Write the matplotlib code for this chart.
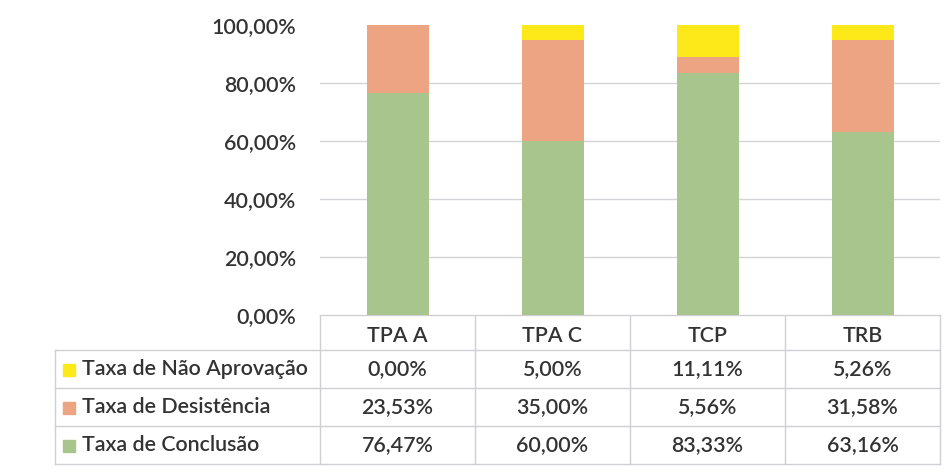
import matplotlib
matplotlib.use("Agg")
import matplotlib.pyplot as plt
from matplotlib.ticker import FuncFormatter

categories = ["TPA A", "TPA C", "TCP", "TRB"]
series_names = ["Taxa de Não Aprovação", "Taxa de Desistência", "Taxa de Conclusão"]
nao_aprov = [0.00, 5.00, 11.11, 5.26]
desist = [23.53, 35.00, 5.56, 31.58]
conclusao = [76.47, 60.00, 83.33, 63.16]
yticks = [0, 20, 40, 60, 80, 100]

c_green = "#a8c58e"
c_orange = "#eca482"
c_yellow = "#fde81a"
txt = "#333333"
gridc = "#d4d4d8"
fs = 15.4
fw = "semibold"

plt.rcParams['font.family'] = ['Lato', 'DejaVu Sans']

W, H = 949, 474
fig = plt.figure(figsize=(W / 100, H / 100), dpi=100)
fig.patch.set_facecolor("white")

def px(x0, y0, x1, y1):
    return [x0 / W, 1 - y1 / H, (x1 - x0) / W, (y1 - y0) / H]

# main plot
ax = fig.add_axes(px(320, 25, 940, 315))
xs = list(range(len(categories)))
bw = 0.4
ax.bar(xs, conclusao, bw, color=c_green, zorder=3)
ax.bar(xs, desist, bw, bottom=conclusao, color=c_orange, zorder=3)
bottom2 = [a + b for a, b in zip(conclusao, desist)]
ax.bar(xs, nao_aprov, bw, bottom=bottom2, color=c_yellow, zorder=3)
ax.set_xlim(-0.5, len(categories) - 0.5)
ax.set_ylim(0, 100)
ax.set_yticks(yticks)
ax.yaxis.set_major_formatter(FuncFormatter(lambda v, p: f"{v:.2f}%".replace(".", ",")))
ax.tick_params(axis="y", length=0, pad=17, labelsize=fs, labelcolor=txt)
for lab in ax.get_yticklabels():
    lab.set_fontweight(fw)
ax.set_xticks([])
for s in ax.spines.values():
    s.set_visible(False)
ax.grid(axis="y", color=gridc, linewidth=1, zorder=0)
ax.yaxis.get_gridlines()[-1].set_visible(False)

# table overlay in pixel coords
tb = fig.add_axes([0, 0, 1, 1], zorder=-1)
tb.set_xlim(0, W)
tb.set_ylim(H, 0)
tb.axis("off")
col_x = [320, 475, 630, 785, 940]
row_y = [315, 350, 388, 426, 464]
leg_x0 = 55
lc = "#d0d0d4"
for i, x in enumerate(col_x):
    tb.plot([x, x], [row_y[0], row_y[-1]], color=lc, lw=1)
tb.plot([leg_x0, leg_x0], [row_y[1], row_y[-1]], color=lc, lw=1)
tb.plot([col_x[0], col_x[-1]], [row_y[0], row_y[0]], color=lc, lw=1)
for y in row_y[1:]:
    tb.plot([leg_x0, col_x[-1]], [y, y], color=lc, lw=1)

for i, c in enumerate(categories):
    tb.text((col_x[i] + col_x[i + 1]) / 2, (row_y[0] + row_y[1]) / 2 + 3, c,
            ha="center", va="center", fontsize=fs, color=txt, fontweight=fw)

rows = [nao_aprov, desist, conclusao]
colors = [c_yellow, c_orange, c_green]
for r, (name, vals, col) in enumerate(zip(series_names, rows, colors)):
    yc = (row_y[r + 1] + row_y[r + 2]) / 2
    tb.add_patch(plt.Rectangle((63, yc - 5), 12, 12, color=col))
    tb.text(82, yc, name, ha="left", va="center", fontsize=fs, color=txt, fontweight=fw)
    for i, v in enumerate(vals):
        tb.text((col_x[i] + col_x[i + 1]) / 2, yc, f"{v:.2f}%".replace(".", ","),
                ha="center", va="center", fontsize=fs, color=txt, fontweight=fw)

fig.savefig("out.png", dpi=100, facecolor="white")
